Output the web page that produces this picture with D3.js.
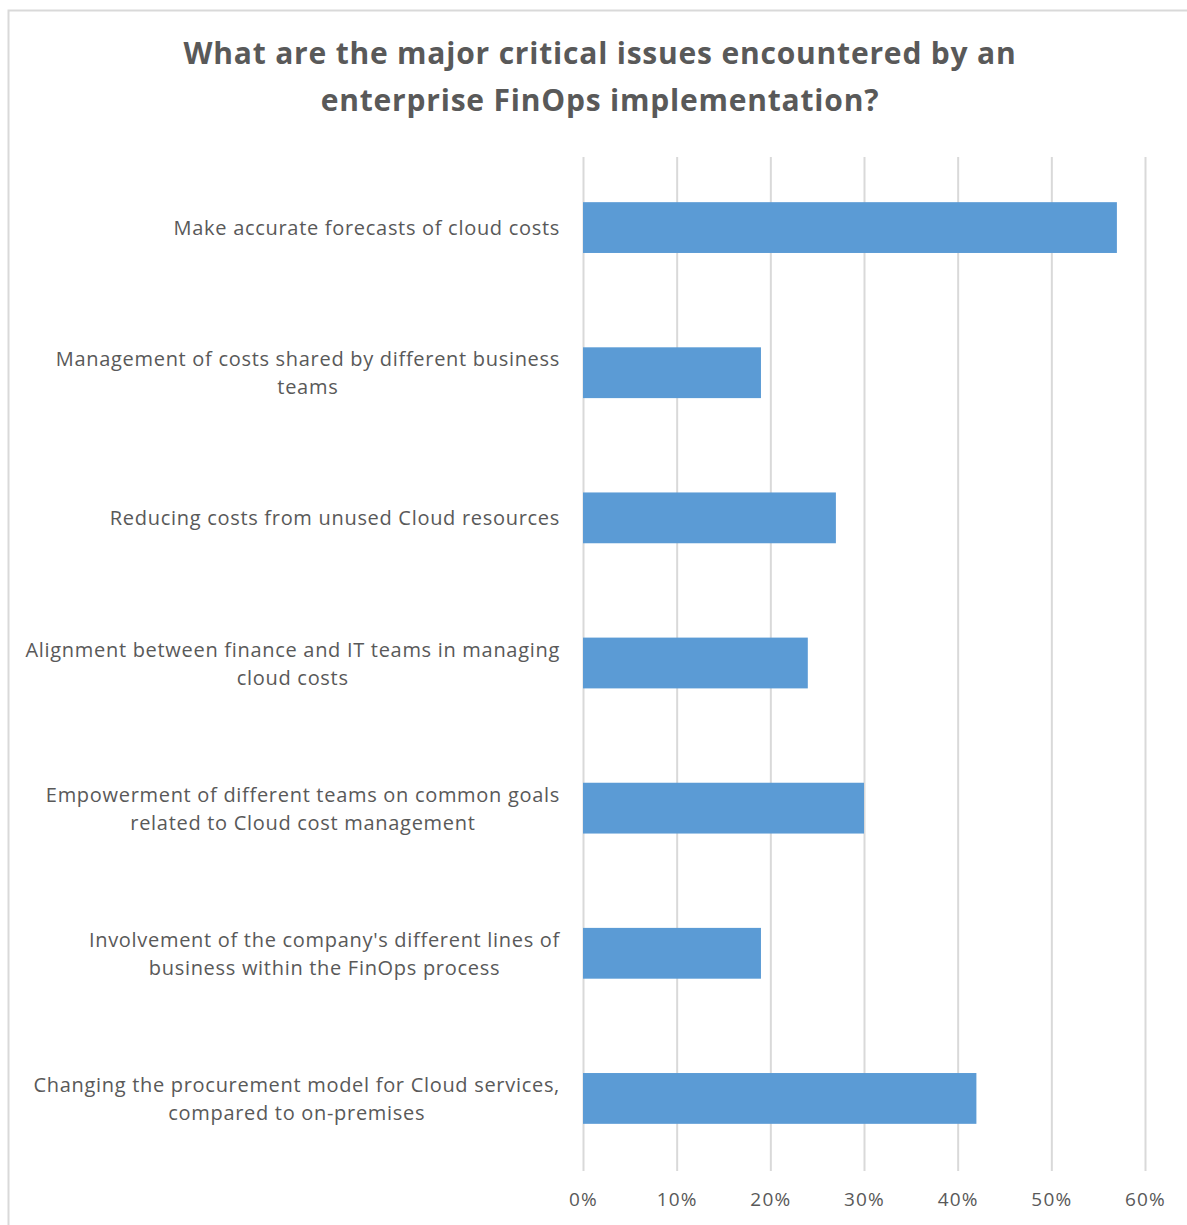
<!DOCTYPE html>
<html>
<head>
<meta charset="utf-8">
<script src="https://cdn.jsdelivr.net/npm/d3@7"></script>
<style>
  body { margin: 0; background: #fff; }
  svg { display: block; font-family: "Open Sans", sans-serif; }
</style>
</head>
<body>
<svg id="chart" width="1187" height="1225"></svg>
<script>
// chart data
const title = [
  "What are the major critical issues encountered by an",
  "enterprise FinOps implementation?"
];
const categories = [
  "Make accurate forecasts of cloud costs",
  "Management of costs shared by different business\nteams",
  "Reducing costs from unused Cloud resources",
  "Alignment between finance and IT teams in managing\ncloud costs",
  "Empowerment of different teams on common goals\nrelated to Cloud cost management",
  "Involvement of the company's different lines of\nbusiness within the FinOps process",
  "Changing the procurement model for Cloud services,\ncompared to on-premises"
];
const values = [0.57, 0.19, 0.27, 0.24, 0.30, 0.19, 0.42];
const xTicks = [0, 0.1, 0.2, 0.3, 0.4, 0.5, 0.6];

const margin = {top: 155, right: 42, bottom: 54, left: 583};
const W = 1187, H = 1225;
const width = W - margin.left - margin.right,
      height = H - margin.top - margin.bottom;

const svg = d3.select("#chart");

// outer chart border (cut off on right/bottom like the screenshot)
svg.append("rect")
  .attr("x", 8.5).attr("y", 10.5)
  .attr("width", W + 10).attr("height", H + 10)
  .attr("fill", "none").attr("stroke", "#d9d9d9").attr("stroke-width", 2);

// title
svg.append("text")
  .attr("x", 600).attr("y", 64)
  .attr("text-anchor", "middle")
  .attr("fill", "#595959")
  .attr("font-size", 30).attr("font-weight", "bold")
  .attr("letter-spacing", 0.8)
  .selectAll("tspan")
  .data(title)
  .join("tspan")
    .attr("x", 600)
    .attr("dy", (d, i) => i ? 47 : 0)
    .text(d => d);

const g = svg.append("g")
  .attr("transform", `translate(${margin.left},${margin.top})`);

const x = d3.scaleLinear().domain([0, 0.6]).range([0, width]);
const y = d3.scaleBand().domain(categories).range([0, height]).paddingInner(0.65).paddingOuter(0.325);

// vertical gridlines + tick labels
const xAxis = g.append("g")
  .attr("transform", `translate(0,${height})`)
  .call(d3.axisBottom(x).tickValues(xTicks).tickFormat(d3.format(".0%")).tickSize(height - 2).tickPadding(22));
xAxis.select(".domain").remove();
xAxis.selectAll(".tick line")
  .attr("transform", `translate(0,${-height + 2})`)
  .attr("stroke", "#d9d9d9").attr("stroke-width", 2);
xAxis.selectAll(".tick text")
  .attr("transform", `translate(0,${-height + 2})`)
  .attr("fill", "#595959").attr("font-size", 19)
  .attr("letter-spacing", 1.2)
  .attr("font-family", "Open Sans, sans-serif");

// bars
g.selectAll(".bar")
  .data(categories)
  .join("rect")
    .attr("class", "bar")
    .attr("x", 0)
    .attr("y", d => y(d))
    .attr("width", (d, i) => x(values[i]))
    .attr("height", y.bandwidth())
    .attr("fill", "#5b9bd5");

// category labels: wrapped lines centred within a right-aligned block
const labelRight = -23;
const lineH = 28;
categories.forEach(cat => {
  const lines = cat.split("\n");
  const t = g.append("text")
    .attr("fill", "#595959")
    .attr("font-size", 20)
    .attr("letter-spacing", 0.7)
    .attr("text-anchor", "middle");
  const cy = y(cat) + y.bandwidth() / 2;
  const spans = t.selectAll("tspan").data(lines).join("tspan")
    .attr("y", (d, i) => cy + (i - (lines.length - 1) / 2) * lineH)
    .attr("dominant-baseline", "central")
    .text(d => d);
  const maxW = d3.max(spans.nodes(), n => n.getComputedTextLength());
  spans.attr("x", labelRight - maxW / 2);
});
</script>
</body>
</html>
